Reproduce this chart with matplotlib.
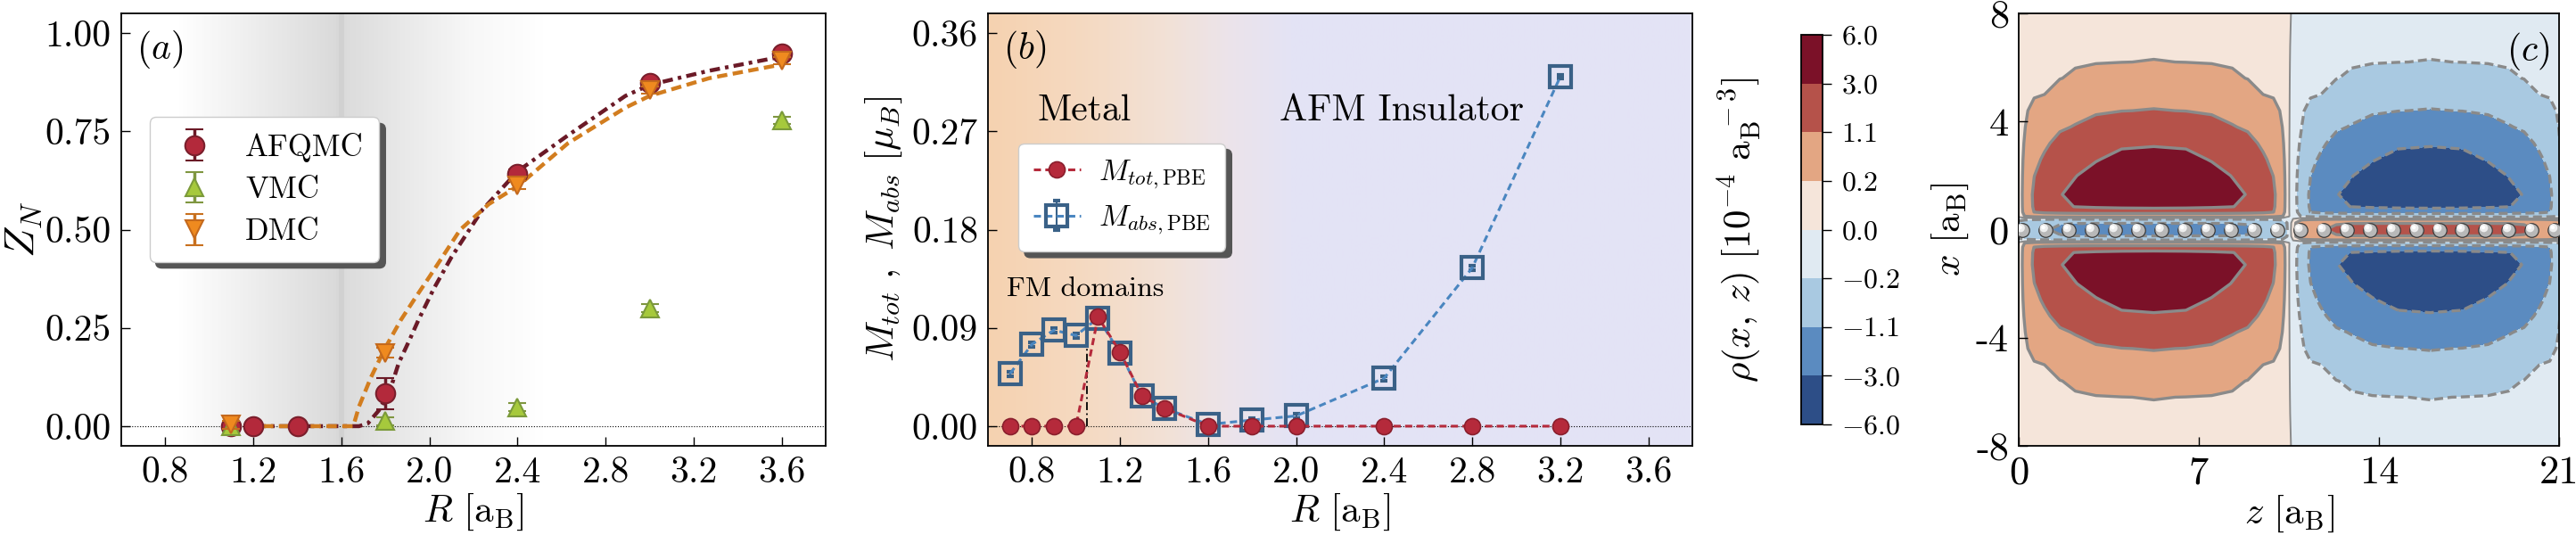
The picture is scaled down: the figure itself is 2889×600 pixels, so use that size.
import matplotlib
matplotlib.use("Agg")
import matplotlib.pyplot as plt
import numpy as np
from matplotlib.colors import LinearSegmentedColormap
from matplotlib import transforms

plt.rcParams['font.family'] = 'serif'
plt.rcParams['font.serif'] = ['cmr10', 'DejaVu Serif']
plt.rcParams['mathtext.fontset'] = 'cm'
plt.rcParams['axes.formatter.use_mathtext'] = True
plt.rcParams['axes.unicode_minus'] = False

# ---------------- panel (a) data ----------------
R_afqmc = [1.1, 1.2, 1.4, 1.8, 2.4, 3.0, 3.6]
Z_afqmc = [0.0, 0.0, 0.0, 0.083, 0.642, 0.872, 0.948]
E_afqmc = [0.005, 0.005, 0.005, 0.04, 0.01, 0.01, 0.01]

R_vmc = [1.1, 1.8, 2.4, 3.0, 3.6]
Z_vmc = [0.0, 0.013, 0.048, 0.30, 0.778]
E_vmc = [0.01, 0.01, 0.01, 0.01, 0.01]

R_dmc = [1.1, 1.8, 2.4, 3.0, 3.6]
Z_dmc = [0.004, 0.187, 0.613, 0.855, 0.93]
E_dmc = [0.01, 0.012, 0.01, 0.01, 0.01]

R_fit_afqmc = [1.1, 1.5, 1.68, 1.72, 1.77, 1.82, 1.86, 1.91, 1.95, 2.02, 2.1,
               2.24, 2.4, 2.63, 2.89, 3.0, 3.27, 3.6]
Z_fit_afqmc = [0.0, 0.0, 0.0, 0.007, 0.04, 0.09, 0.16, 0.22, 0.27, 0.35, 0.43,
               0.55, 0.648, 0.74, 0.84, 0.868, 0.904, 0.94]
R_fit_dmc = [1.1, 1.5, 1.654, 1.68, 1.735, 1.80, 1.87, 1.94, 2.0, 2.14, 2.27,
             2.4, 2.63, 2.89, 3.0, 3.27, 3.6]
Z_fit_dmc = [0.0, 0.0, 0.0, 0.05, 0.125, 0.2, 0.27, 0.33, 0.38, 0.5, 0.565,
             0.61, 0.72, 0.81, 0.84, 0.885, 0.92]

R_ticks = [0.8, 1.2, 1.6, 2.0, 2.4, 2.8, 3.2, 3.6]
R_ticklabels = ['0.8', '1.2', '1.6', '2.0', '2.4', '2.8', '3.2', '3.6']
Z_ticks = [0.0, 0.25, 0.5, 0.75, 1.0]
Z_ticklabels = ['0.00', '0.25', '0.50', '0.75', '1.00']

# ---------------- panel (b) data ----------------
R_tot = [0.7, 0.8, 0.9, 1.0, 1.1, 1.2, 1.3, 1.4, 1.6, 1.8, 2.0, 2.4, 2.8, 3.2]
M_tot = [0.0, 0.0, 0.0, 0.0, 0.100, 0.068, 0.0275, 0.0166, 0.0, 0.0, 0.0, 0.0, 0.0, 0.0]
R_abs = [0.7, 0.8, 0.9, 1.0, 1.1, 1.2, 1.3, 1.4, 1.6, 1.8, 2.0, 2.4, 2.8, 3.2]
M_abs = [0.048, 0.075, 0.088, 0.083, 0.099, 0.067, 0.0275, 0.0166, 0.0016, 0.0056,
         0.0094, 0.044, 0.145, 0.32]
E_abs = [0.002] * len(M_abs)
fm_boundary_R = 1.05
fm_boundary_top = 0.085
M_ticks = [0.0, 0.09, 0.18, 0.27, 0.36]
M_ticklabels = ['0.00', '0.09', '0.18', '0.27', '0.36']

# ---------------- panel (c) data (quarter grid: x >= 0, left half of the cell) ----------------
X_q = [0.0, 0.25, 0.4, 0.5, 0.65, 0.85, 1.3, 2.0, 2.6, 3.2, 3.8, 4.4, 5.0, 5.6, 6.2, 6.8, 8.0]
Z_q = [0.0, 0.25, 0.6, 1.0, 1.6, 2.2, 3.0, 4.0, 5.25, 6.5, 7.5, 8.3, 8.9, 9.5, 9.9, 10.25, 10.5]
rho_q = [
    [-0.4, -0.5, -0.7, -0.9, -1.5, -2.0, -2.2, -2.3, -2.3, -2.3, -2.2, -2.0, -1.5, -0.9, -0.7, -0.5, -0.1],
    [-0.3, -0.45, -0.6, -0.75, -0.95, -1.0, -1.0, -1.0, -1.0, -1.0, -1.0, -1.0, -0.95, -0.75, -0.6, -0.45, -0.1],
    [-0.08, -0.1, -0.1, -0.1, -0.1, -0.1, -0.1, -0.1, -0.1, -0.1, -0.1, -0.1, -0.1, -0.1, -0.1, -0.1, -0.05],
    [0.04, 0.22, 0.3, 0.33, 0.35, 0.35, 0.35, 0.35, 0.35, 0.35, 0.35, 0.35, 0.35, 0.33, 0.3, 0.22, 0.01],
    [0.04, 0.3, 1.12, 1.3, 1.4, 1.45, 1.5, 1.5, 1.5, 1.5, 1.5, 1.45, 1.4, 1.3, 1.12, 0.3, 0.01],
    [0.04, 0.32, 1.25, 1.8, 2.6, 3.05, 3.3, 3.5, 3.6, 3.5, 3.3, 3.05, 2.6, 1.8, 1.25, 0.32, 0.01],
    [0.04, 0.33, 1.3, 2.0, 2.9, 3.55, 4.4, 5.1, 5.3, 5.1, 4.4, 3.55, 2.9, 2.0, 1.3, 0.33, 0.01],
    [0.04, 0.31, 1.08, 1.59, 2.34, 2.93, 3.74, 4.62, 4.81, 4.62, 3.74, 2.93, 2.34, 1.59, 1.08, 0.31, 0.01],
    [0.04, 0.28, 0.87, 1.23, 1.86, 2.34, 2.87, 3.60, 3.78, 3.60, 2.87, 2.34, 1.86, 1.23, 0.87, 0.28, 0.01],
    [0.04, 0.24, 0.67, 0.94, 1.38, 1.74, 2.18, 2.66, 2.79, 2.66, 2.18, 1.74, 1.38, 0.94, 0.67, 0.24, 0.01],
    [0.04, 0.195, 0.47, 0.70, 0.98, 1.15, 1.49, 1.85, 1.97, 1.85, 1.49, 1.15, 0.98, 0.70, 0.47, 0.195, 0.01],
    [0.04, 0.17, 0.27, 0.45, 0.69, 0.83, 0.97, 1.08, 1.14, 1.08, 0.97, 0.83, 0.69, 0.45, 0.27, 0.17, 0.01],
    [0.04, 0.15, 0.18, 0.20, 0.39, 0.54, 0.68, 0.78, 0.81, 0.78, 0.68, 0.54, 0.39, 0.20, 0.18, 0.15, 0.01],
    [0.04, 0.13, 0.16, 0.17, 0.19, 0.25, 0.38, 0.48, 0.51, 0.48, 0.38, 0.25, 0.19, 0.17, 0.16, 0.13, 0.01],
    [0.04, 0.11, 0.13, 0.14, 0.15, 0.17, 0.18, 0.195, 0.21, 0.195, 0.18, 0.17, 0.15, 0.14, 0.13, 0.11, 0.01],
    [0.04, 0.09, 0.10, 0.11, 0.12, 0.13, 0.14, 0.15, 0.15, 0.15, 0.14, 0.13, 0.12, 0.11, 0.10, 0.09, 0.01],
    [0.04, 0.05, 0.05, 0.05, 0.05, 0.05, 0.05, 0.05, 0.05, 0.05, 0.05, 0.05, 0.05, 0.05, 0.05, 0.05, 0.01],
]
right_half_shift = 10.74
z_atoms = [0.14, 1.04, 1.94, 2.84, 3.74, 4.64, 5.54, 6.44, 7.34, 8.24, 9.14, 10.04,
           10.94, 11.84, 12.74, 13.64, 14.54, 15.44, 16.34, 17.24, 18.14, 19.04,
           19.94, 20.84]
rho_levels = [-6.0, -3.0, -1.1, -0.2, 0.0, 0.2, 1.1, 3.0, 6.0]
rho_ticklabels = [r'$-6.0$', r'$-3.0$', r'$-1.1$', r'$-0.2$', r'$0.0$',
                  r'$0.2$', r'$1.1$', r'$3.0$', r'$6.0$']
rho_colors = ['#2d4e87', '#5b8bc0', '#a9c9e1', '#e0eaf2',
              '#f5e5da', '#e3a683', '#b5524a', '#7b1128']

# full field from the quarter: mirror in x, sign flip for the second half in z
Xq = np.array(X_q)
Zq = np.array(Z_q)
Vq = np.array(rho_q)
V_half = np.vstack([Vq[::-1], Vq[1:]])
X_full = np.concatenate([-Xq[::-1], Xq[1:]])
Z_full = np.concatenate([Zq, Zq[1:] + right_half_shift])
V_full = np.hstack([V_half, -V_half[:, 1:]])

# ---------------- figure ----------------
fig = plt.figure(figsize=(28.89, 6), dpi=100)
W, H = 2889, 600


def add_px_axes(left, top, right, bottom):
    return fig.add_axes([left / W, 1 - bottom / H, (right - left) / W, (bottom - top) / H])


tick_fs = 30
label_fs = 31
shadow_style = {'ox': 5, 'oy': -5, 'color': '#555555', 'alpha': 1}

# ---- panel (a) ----
ax1 = add_px_axes(136, 15, 926, 500)
bg_a = LinearSegmentedColormap.from_list(
    'bg_a', [(0.0, '#ffffff'), (0.08, '#ffffff'), (0.305, '#dadada'), (0.312, '#cdcdcd'),
             (0.318, '#dcdcdc'), (0.50, '#f8f8f8'), (0.60, '#ffffff'), (1.0, '#ffffff')])
ax1.imshow(np.linspace(0, 1, 800)[None, :], cmap=bg_a, aspect='auto',
           extent=[0.6, 3.8, -0.05, 1.05], zorder=0)
ax1.axhline(0, color='k', ls=':', lw=0.8, zorder=1)
ax1.plot(R_fit_afqmc, Z_fit_afqmc, color='#6b1a27', lw=3.2,
         ls=(0, (2.6, 1.3, 0.9, 1.3)), zorder=3)
ax1.plot(R_fit_dmc, Z_fit_dmc, color='#d27d1f', lw=3.2, ls=(0, (2.6, 1.4)), zorder=3)
ax1.errorbar(R_afqmc, Z_afqmc, yerr=E_afqmc, fmt='o', ms=15.5, mfc='#b3293b',
             mec='#7a1f2c', mew=1.5, ecolor='#6b1a27', elinewidth=2.5, capsize=7,
             capthick=3, label='AFQMC', zorder=4)
ax1.errorbar(R_vmc, Z_vmc, yerr=E_vmc, fmt='^', ms=15, mfc='#a6c93c',
             mec='#7b9a3a', mew=1.5, ecolor='#7f9640', elinewidth=2.5, capsize=7,
             capthick=3, label='VMC', zorder=4)
ax1.errorbar(R_dmc, Z_dmc, yerr=E_dmc, fmt='v', ms=15, mfc='#ef8a1f',
             mec='#c4691d', mew=1.5, ecolor='#c8701e', elinewidth=2.5, capsize=7,
             capthick=3, label='DMC', zorder=5)
ax1.set_xlim(0.6, 3.8)
ax1.set_ylim(-0.05, 1.05)
ax1.set_xticks(R_ticks, R_ticklabels)
ax1.set_yticks(Z_ticks, Z_ticklabels)
ax1.set_xlabel(r'$R\ [\mathrm{a}_{\mathrm{B}}]$', fontsize=label_fs, labelpad=2)
ax1.set_ylabel(r'$Z_N$', fontsize=label_fs + 3, labelpad=1)
ax1.text(0.022, 0.965, r'$(a)$', transform=ax1.transAxes, fontsize=30,
         ha='left', va='top')
ax1.legend(loc='upper left', bbox_to_anchor=(0.04, 0.76), fontsize=25,
           frameon=True, fancybox=True, framealpha=1, edgecolor='#cccccc',
           shadow=shadow_style, handlelength=1.9, labelspacing=0.45,
           borderpad=0.5, handletextpad=0.7, borderaxespad=0)

# ---- panel (b) ----
ax2 = add_px_axes(1108, 15, 1898, 500)
bg_b = LinearSegmentedColormap.from_list(
    'bg_b', [(0.0, '#f6d2b0'), (0.125, '#f5d9c0'), (0.25, '#f2e1d6'),
             (0.34, '#ece4ea'), (0.43, '#e4e3f5'), (1.0, '#e3e3f6')])
ax2.imshow(np.linspace(0, 1, 800)[None, :], cmap=bg_b, aspect='auto',
           extent=[0.6, 3.8, -0.018, 0.378], zorder=0)
ax2.axhline(0, color='k', ls=':', lw=0.8, zorder=1)
ax2.vlines(fm_boundary_R, 0, fm_boundary_top, colors='k', lw=1.3,
           linestyles=(0, (5, 2, 1, 2)), zorder=2)
ax2.plot(R_tot, M_tot, marker='o', ls=(0, (2.6, 1.6)), lw=2.2, color='#b52a3b',
         ms=13, mfc='#b52a3b', mec='#8a1f2d', mew=1.2,
         label=r'$M_{tot,\mathrm{PBE}}$', zorder=4)
ax2.errorbar(R_abs, M_abs, yerr=E_abs, fmt='s', ls=(0, (2.6, 1.6)), lw=2.2,
             color='#4a86c0', ms=17, mfc='none', mec='#3a6187', mew=3,
             ecolor='#3a6187', elinewidth=1.5, capsize=3, capthick=1.5,
             label=r'$M_{abs,\mathrm{PBE}}$', zorder=3)
ax2.set_xlim(0.6, 3.8)
ax2.set_ylim(-0.018, 0.378)
ax2.set_xticks(R_ticks, R_ticklabels)
ax2.set_yticks(M_ticks, M_ticklabels)
ax2.set_xlabel(r'$R\ [\mathrm{a}_{\mathrm{B}}]$', fontsize=label_fs, labelpad=2)
ax2.set_ylabel(r'$M_{tot}\ ,\ M_{abs}\ [\mu_B]$', fontsize=label_fs, labelpad=6)
ax2.text(0.022, 0.965, r'$(b)$', transform=ax2.transAxes, fontsize=30,
         ha='left', va='top')
ax2.text(0.826, 0.28, 'Metal', fontsize=30, ha='left', va='baseline')
ax2.text(1.925, 0.28, 'AFM Insulator', fontsize=30, ha='left', va='baseline')
ax2.text(0.687, 0.119, 'FM domains', fontsize=23, ha='left', va='baseline')
ax2.legend(loc='upper left', bbox_to_anchor=(0.043, 0.70), fontsize=24,
           frameon=True, fancybox=True, framealpha=1, edgecolor='#cccccc',
           shadow=shadow_style, handlelength=1.6, labelspacing=0.45,
           borderpad=0.5, handletextpad=0.6, borderaxespad=0)

for ax in (ax1, ax2):
    ax.tick_params(direction='in', length=7, width=1, labelsize=tick_fs, pad=8)
    for s in ax.spines.values():
        s.set_linewidth(1.3)

# ---- colorbar + panel (c) ----
cax = add_px_axes(2020, 39, 2044, 476)
ax3 = add_px_axes(2264, 15, 2870, 500)
cf = ax3.contourf(Z_full, X_full, V_full, levels=rho_levels, colors=rho_colors, zorder=0)
line_widths = [2.4, 2.4, 2.4, 1.4, 2.4, 2.4, 2.4]
ax3.contour(Z_full, X_full, V_full, levels=rho_levels[1:-1], colors='#8a8a8a',
            linewidths=line_widths, negative_linestyles=(0, (3, 1.5)), zorder=1)
ax3.scatter(z_atoms, [0.0] * len(z_atoms), s=125, c='#b8b8b8', edgecolors='#3c3c3c',
            linewidths=0.9, zorder=3)
hl = transforms.offset_copy(ax3.transData, fig=fig, x=-1.3, y=1.3, units='points')
ax3.scatter(z_atoms, [0.0] * len(z_atoms), s=45, c='#eeeeee', edgecolors='none',
            transform=hl, zorder=4)
hl2 = transforms.offset_copy(ax3.transData, fig=fig, x=-1.8, y=1.8, units='points')
ax3.scatter(z_atoms, [0.0] * len(z_atoms), s=10, c='#ffffff', edgecolors='none',
            transform=hl2, zorder=5)
ax3.set_xlim(0, 21)
ax3.set_ylim(-8, 8)
ax3.set_xticks([0, 7, 14, 21], ['0', '7', '14', '21'])
ax3.set_yticks([-8, -4, 0, 4, 8], ['-8', '-4', '0', '4', '8'])
ax3.set_xlabel(r'$z\ [\mathrm{a}_{\mathrm{B}}]$', fontsize=label_fs, labelpad=2)
ax3.set_ylabel(r'$x\ [\mathrm{a}_{\mathrm{B}}]$', fontsize=label_fs, labelpad=4)
ax3.text(0.982, 0.96, r'$(c)$', transform=ax3.transAxes, fontsize=30,
         ha='right', va='top')
ax3.tick_params(direction='in', length=7, width=1, labelsize=32, pad=8)
for s in ax3.spines.values():
    s.set_linewidth(1.3)

cbar = fig.colorbar(cf, cax=cax, ticks=rho_levels)
cbar.ax.set_yticklabels(rho_ticklabels)
cbar.ax.tick_params(labelsize=23, length=7, width=1, pad=8)
cbar.outline.set_linewidth(1.3)
cbar.ax.yaxis.set_label_position('left')
cbar.set_label(r'$\rho(x,\,z)\ [10^{-4}\ \mathrm{a}_{\mathrm{B}}^{\ -3}]$',
               fontsize=label_fs, labelpad=30)

fig.savefig('out.png', dpi=100)
